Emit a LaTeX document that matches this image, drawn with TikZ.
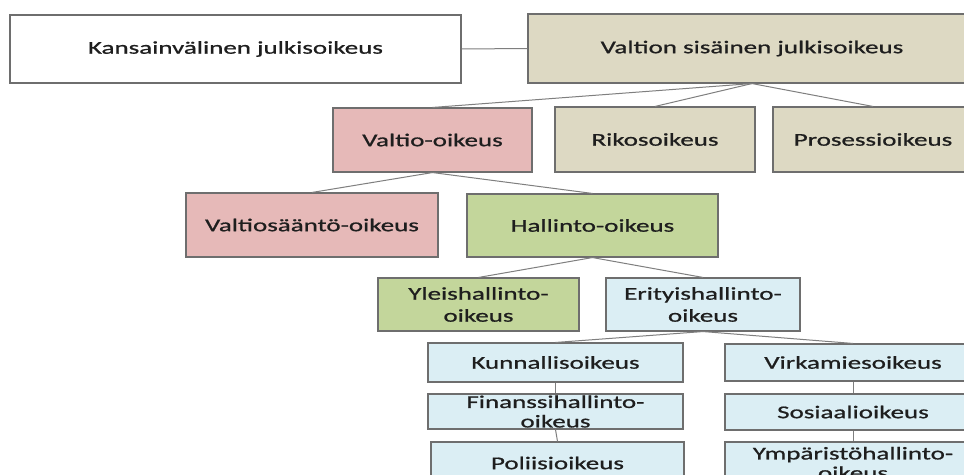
\documentclass[tikz,border=0pt]{standalone}
\usepackage{fontspec}
\usepackage{xcolor}
\usepackage{tikz}
\usetikzlibrary{positioning}
\newfontfamily\boxfont{Carlito}[FakeStretch=1.5,FakeBold=0.9]

\definecolor{tanfill}{HTML}{DDD9C3}
\definecolor{pinkfill}{HTML}{E6B9B8}
\definecolor{greenfill}{HTML}{C3D69B}
\definecolor{bluefill}{HTML}{DBEEF4}
\definecolor{rimgray}{HTML}{6E6E6E}
\definecolor{linkgray}{HTML}{7F7F7F}
\definecolor{inkdark}{HTML}{1E1E1E}

\begin{document}
\begin{tikzpicture}[x=1pt,y=-1pt,
    lawbox/.style={draw=rimgray, line width=1.1pt, inner sep=0pt,
        text=inkdark, align=center,
        font=\boxfont\fontsize{18}{22}\selectfont},
    tightbox/.style={lawbox, font=\boxfont\fontsize{18}{19.5}\selectfont},
    link/.style={draw=linkgray, line width=1pt}]

        %=====================
        % Frame
        %=====================
        \useasboundingbox (0,0) rectangle (964,474);
        \fill[white] (0,0) rectangle (964,474);
        \clip (0,0) rectangle (964,474);

        %=====================
        % Top row
        %=====================
        \node[lawbox, fill=white, minimum width=451pt, minimum height=68pt]
            (kansa) at (235.5,49) {Kansainvälinen julkisoikeus};
        \node[lawbox, fill=tanfill, minimum width=448pt, minimum height=69pt]
            (sisainen) at (752,48.5) {Valtion sisäinen julkisoikeus};

        %=====================
        % Second row
        %=====================
        \node[lawbox, fill=pinkfill, minimum width=199pt, minimum height=64pt]
            (valtio) at (432.5,140) {Valtio-oikeus};
        \node[lawbox, fill=tanfill, minimum width=200pt, minimum height=65pt]
            (rikos) at (655,139.5) {Rikosoikeus};
        \node[lawbox, fill=tanfill, minimum width=200pt, minimum height=65pt]
            (prosessi) at (873,139.5) {Prosessioikeus};

        %=====================
        % Third row
        %=====================
        \node[lawbox, fill=pinkfill, minimum width=252pt, minimum height=64pt]
            (saanto) at (312,225) {Valtiosääntö-oikeus};
        \node[lawbox, fill=greenfill, minimum width=251pt, minimum height=63pt]
            (hallinto) at (592.5,225.5) {Hallinto-oikeus};

        %=====================
        % Fourth row
        %=====================
        \node[lawbox, fill=greenfill, minimum width=201pt, minimum height=53pt]
            (yleis) at (478.5,304.5) {Yleishallinto-\\oikeus};
        \node[lawbox, fill=bluefill, minimum width=194pt, minimum height=53pt]
            (erityis) at (703,304.5) {Erityishallinto-\\oikeus};

        %=====================
        % Left column
        %=====================
        \node[lawbox, fill=bluefill, minimum width=255pt, minimum height=39pt]
            (kunnallis) at (555.5,362.5) {Kunnallisoikeus};
        \node[tightbox, fill=bluefill, minimum width=255pt, minimum height=35pt]
            (finanssi) at (555.5,411.5) {Finanssihallinto-\\oikeus};
        \node[lawbox, fill=bluefill, minimum width=253pt, minimum height=42pt]
            (poliisi) at (557.5,463) {Poliisioikeus};

        %=====================
        % Right column
        %=====================
        \node[lawbox, fill=bluefill, minimum width=256pt, minimum height=37pt]
            (virka) at (853,362.5) {Virkamiesoikeus};
        \node[lawbox, fill=bluefill, minimum width=256pt, minimum height=36pt]
            (sosiaali) at (853,412) {Sosiaalioikeus};
        \node[tightbox, fill=bluefill, minimum width=256pt, minimum height=42pt]
            (ymparisto) at (853,463) {Ympäristöhallinto-\\oikeus};

        %=====================
        % Connectors
        %=====================
        \draw[link] (kansa.east) -- (sisainen.west);

        \draw[link] (sisainen.south) -- (valtio.north);
        \draw[link] (sisainen.south) -- (rikos.north);
        \draw[link] (sisainen.south) -- (prosessi.north);

        \draw[link] (valtio.south) -- (saanto.north);
        \draw[link] (valtio.south) -- (hallinto.north);

        \draw[link] (hallinto.south) -- (yleis.north);
        \draw[link] (hallinto.south) -- (erityis.north);

        \draw[link] (erityis.south) -- (kunnallis.north);
        \draw[link] (erityis.south) -- (virka.north);

        \draw[link] (kunnallis.south) -- (finanssi.north);
        \draw[link] (finanssi.south) -- (poliisi.north);
        \draw[link] (virka.south) -- (sosiaali.north);
        \draw[link] (sosiaali.south) -- (ymparisto.north);

    \end{tikzpicture}
\end{document}
